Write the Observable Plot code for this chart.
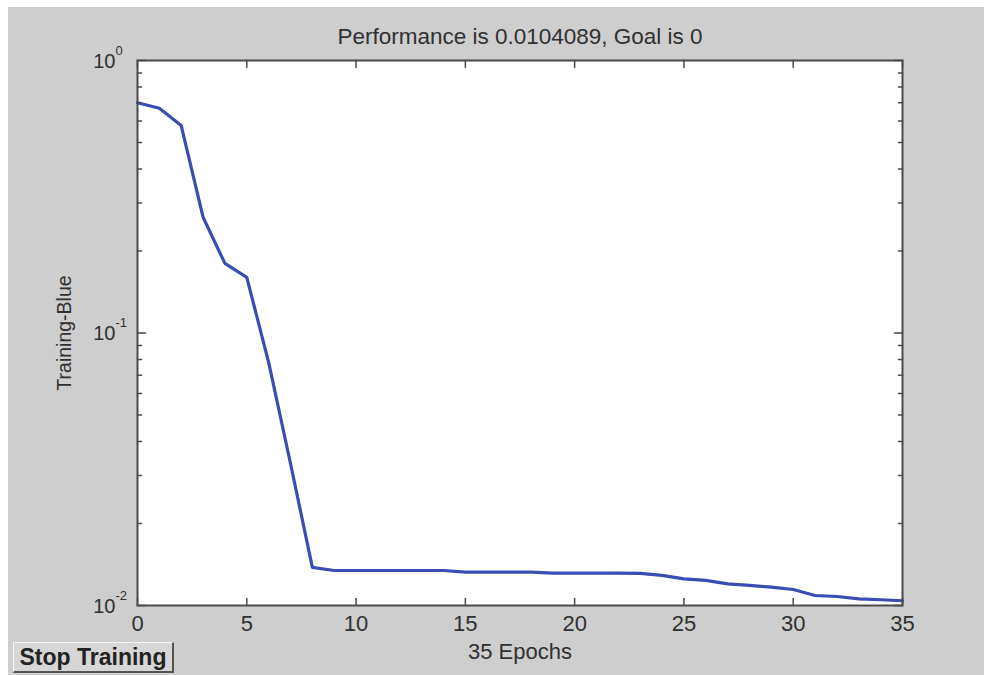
<!DOCTYPE html>
<html>
<head>
<meta charset="utf-8">
<script src="https://cdn.jsdelivr.net/npm/d3@7"></script>
<script src="https://cdn.jsdelivr.net/npm/@observablehq/plot@0.6"></script>
<style>
  html, body { margin: 0; padding: 0; background: #ffffff; }
  #wrap { position: relative; width: 984px; height: 675px; overflow: hidden; }
  #panel { position: absolute; left: 8px; top: 7px; width: 976px; height: 668px; background: #cecece; }
  #chart { position: absolute; left: 0; top: 0; }
  #stop {
    position: absolute; left: 13px; top: 642px; width: 161px; height: 31px;
    font-family: "Liberation Sans", Arial, sans-serif; font-weight: bold; font-size: 23px;
    color: #222; background: #d6d6d6; padding: 0; line-height: 27px;
    border-style: solid; border-width: 1px 2px 2px 1px;
    border-color: #f4f4f4 #555 #555 #f4f4f4;
  }
</style>
</head>
<body>
<div id="wrap">
  <div id="panel"></div>
  <div id="chart"></div>
  <button id="stop">Stop Training</button>
</div>
<script>
// Epoch numbers and training performance
const epochs = [0,1,2,3,4,5,6,7,8,9,10,11,12,13,14,15,16,17,18,19,20,21,22,23,24,25,26,27,28,29,30,31,32,33,34,35];
const performance = [0.70,0.668,0.577,0.266,0.180,0.160,0.078,0.0332,0.0138,0.01344,
  0.01344,0.01344,0.01344,0.01344,0.01344,0.01325,0.01325,0.01325,0.01325,0.01315,
  0.01315,0.01315,0.01315,0.01312,0.01289,0.01253,0.01236,0.01201,0.01185,0.01168,
  0.01145,0.01088,0.01079,0.01058,0.0105,0.0104089];
const xTicks = [0,5,10,15,20,25,30,35];
const yMajor = [0.01,0.1,1];
const yMinor = [0.02,0.03,0.04,0.05,0.06,0.07,0.08,0.09,0.2,0.3,0.4,0.5,0.6,0.7,0.8,0.9];
const yExponents = ["-2","-1","0"];
const titleText = "Performance is 0.0104089, Goal is 0";
const xLabel = "35 Epochs";
const yLabel = "Training-Blue";

const data = epochs.map((e, i) => ({epoch: e, perf: performance[i]}));
const yLab = yMajor.map((v, i) => ({v, exp: yExponents[i]}));

const tickShape = { draw(context, l) { context.moveTo(0, 0); context.lineTo(0, -l); } };
const axisColor = "#4a4a4a";
const textColor = "#303030";

const chart = Plot.plot({
  width: 984,
  height: 675,
  marginLeft: 137,
  marginRight: 82,
  marginTop: 60,
  marginBottom: 70,
  style: { background: "transparent", fontFamily: "'Liberation Sans', Arial, sans-serif", color: textColor },
  x: { domain: [0, 35], axis: null },
  y: { type: "log", domain: [0.01, 1], axis: null },
  marks: [
    Plot.frame({ fill: "white" }),
    Plot.line(data, { x: "epoch", y: "perf", stroke: "#3a4db4", strokeWidth: 3.2 }),
    // x ticks bottom (inward) and top
    Plot.vector(xTicks, { x: d => d, y: 0.01, length: 7, rotate: 0, anchor: "start", shape: tickShape, stroke: axisColor, strokeWidth: 1.5 }),
    Plot.vector(xTicks, { x: d => d, y: 1, length: 7, rotate: 180, anchor: "start", shape: tickShape, stroke: axisColor, strokeWidth: 1.5 }),
    // y ticks left and right
    Plot.vector(yMajor, { x: 0, y: d => d, length: 8, rotate: 90, anchor: "start", shape: tickShape, stroke: axisColor, strokeWidth: 1.5 }),
    Plot.vector(yMinor, { x: 0, y: d => d, length: 4, rotate: 90, anchor: "start", shape: tickShape, stroke: axisColor, strokeWidth: 1.5 }),
    Plot.vector(yMajor, { x: 35, y: d => d, length: 8, rotate: 270, anchor: "start", shape: tickShape, stroke: axisColor, strokeWidth: 1.5 }),
    Plot.vector(yMinor, { x: 35, y: d => d, length: 4, rotate: 270, anchor: "start", shape: tickShape, stroke: axisColor, strokeWidth: 1.5 }),
    Plot.frame({ stroke: axisColor, strokeWidth: 2 }),
    // x tick labels
    Plot.text(xTicks, { x: d => d, y: 0.01, text: d => String(d), dy: 18, fontSize: 22, fill: textColor }),
    // y tick labels: 10 with superscript exponent
    Plot.text(yLab, { x: 0, y: "v", text: () => "10", textAnchor: "end", dx: -22, dy: 1, fontSize: 20, fill: textColor }),
    Plot.text(yLab, { x: 0, y: "v", text: "exp", textAnchor: "start", dx: -22, dy: -10, fontSize: 13, fill: textColor }),
    // axis labels and title
    Plot.text([xLabel], { frameAnchor: "bottom", lineAnchor: "middle", textAnchor: "middle", dy: 46, fontSize: 22, fill: textColor }),
    Plot.text([yLabel], { frameAnchor: "left", lineAnchor: "middle", textAnchor: "middle", dx: -73, rotate: -90, fontSize: 19.5, fill: textColor }),
    Plot.text([titleText], { frameAnchor: "top", lineAnchor: "middle", textAnchor: "middle", dy: -24, fontSize: 22.5, fill: textColor })
  ]
});
document.getElementById("chart").appendChild(chart);
</script>
</body>
</html>
